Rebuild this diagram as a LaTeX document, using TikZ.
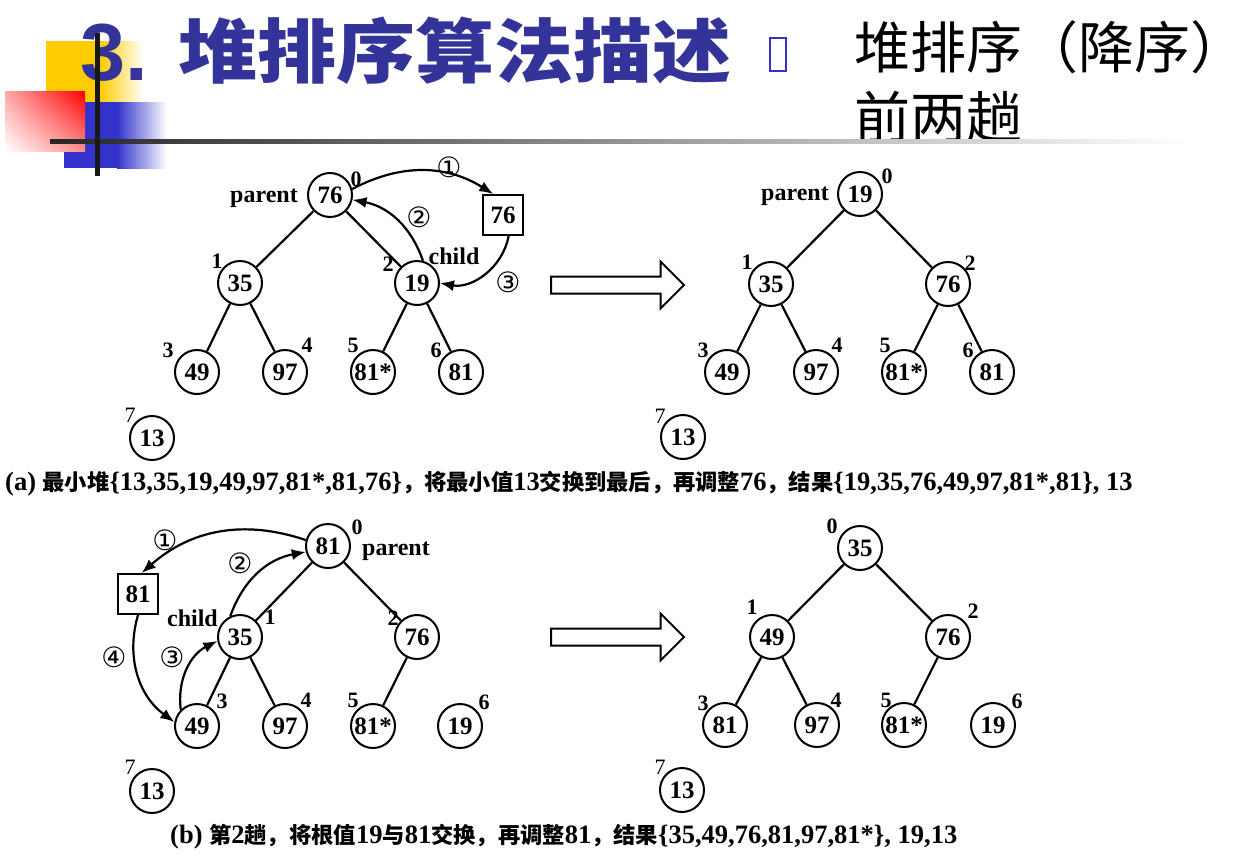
\documentclass[tikz,border=0pt]{standalone}
\usepackage{fontspec}
\setmainfont{Liberation Serif}
\newfontfamily\cjk[Scale=0.84]{Noto Sans CJK SC}
\newfontfamily\cjktitle{Noto Sans CJK SC}
\newfontfamily\titlefont{Liberation Sans}
\newfontfamily\symfont{DejaVu Sans}
\usetikzlibrary{arrows.meta,shapes.arrows,shadings}
\definecolor{titleblue}{RGB}{51,51,153}
\definecolor{boxblue}{RGB}{51,51,204}
\definecolor{boxyellow}{RGB}{255,204,0}
\newcommand{\zhtext}[1]{{\cjk #1}}

\tikzset{
  vertex/.style={circle, draw, line width=2pt, minimum size=44pt, inner sep=0pt, font=\fontsize{25}{25}\selectfont\bfseries},
  tmpbox/.style={rectangle, draw, line width=2pt, minimum size=40pt, inner sep=0pt, font=\fontsize{25}{25}\selectfont\bfseries},
  idx/.style={inner sep=0pt, font=\fontsize{22}{22}\selectfont\bfseries},
  tag/.style={inner sep=0pt, font=\fontsize{24}{24}\selectfont\bfseries},
  stepnum/.style={inner sep=0pt, font=\symfont\fontsize{28}{28}\selectfont},
  edge/.style={line width=2.2pt},
  move/.style={line width=2.2pt, -{Latex[length=14pt,width=11pt]}},
  bigarrow/.style={single arrow, draw, line width=2pt, minimum height=133pt, inner xsep=0pt, inner ysep=7.5pt, single arrow head extend=15pt, anchor=west},
  caption/.style={inner sep=0pt, anchor=base west, font=\fontsize{26.5}{26.5}\selectfont\bfseries}
}

\begin{document}
\begin{tikzpicture}[x=1pt, y=-1pt]
    \useasboundingbox (0,0) rectangle (1251,863);

    % slide decoration
    \fill[boxyellow] (46,41) rectangle (100,102);
    \shade[left color=boxyellow, right color=white] (100,41) rectangle (143,102);
    \fill[boxblue] (64,102) rectangle (117,168);
    \shade[left color=boxblue, right color=white] (117,102) rectangle (167,168);
    \shade[upper right=red, upper left=red!35, lower right=red!45, lower left=white] (5,91) rectangle (85,151);

    % title
    \node(title1) [anchor=base west, inner sep=0pt, text=titleblue, font=\titlefont\bfseries\fontsize{81}{81}\selectfont] at (80,80) {3.};
    \node(title2) [anchor=base west, inner sep=0pt, text=titleblue, font=\cjktitle\bfseries\fontsize{70}{70}\selectfont] at (178,77) {\scalebox{1.13}[1]{堆排序算法描述}};
    \draw[boxblue, line width=2.5pt] (770,38) rectangle (786,71);
    \node(title3) [anchor=base west, inner sep=0pt, font=\cjktitle\fontsize{56}{56}\selectfont] at (854,68) {堆排序（降序）};
    \node(title4) [anchor=base west, inner sep=0pt, font=\cjktitle\fontsize{56}{56}\selectfont] at (854,138) {前两趟};

    \shade[left color=black!85, right color=white] (50,139) rectangle (1190,143);
    \fill[black!90] (95,33) rectangle (100,176);

    %%%%% (a) before %%%%%
    \node(a0) [vertex] at (330,195) {76};
    \node(abox) [tmpbox] at (503,215) {76};
    \node(a1) [vertex] at (240,283) {35};
    \node(a2) [vertex] at (417,283) {19};
    \node(a3) [vertex] at (197,372) {49};
    \node(a4) [vertex] at (285,372) {97};
    \node(a5) [vertex] at (373,372) {81*};
    \node(a6) [vertex] at (461,372) {81};
    \node(a7) [vertex] at (152,438) {13};

    \node(ai0) [idx] at (356,179) {0};
    \node(ai1) [idx] at (217,261) {1};
    \node(ai2) [idx] at (388,264) {2};
    \node(ai3) [idx] at (168,350) {3};
    \node(ai4) [idx] at (307,345) {4};
    \node(ai5) [idx] at (353,345) {5};
    \node(ai6) [idx] at (436,350) {6};
    \node(ai7) [idx, font=\fontsize{22}{22}\selectfont] at (130,415) {7};
    \node(aparent) [tag, anchor=base east] at (298,202) {parent};
    \node(achild) [tag] at (454,256) {child};

    \node(as1) [stepnum] at (449,167) {①};
    \node(as2) [stepnum] at (419,217) {②};
    \node(as3) [stepnum] at (508,282) {③};

    \draw[edge] (a0) -- (a1);
    \draw[edge] (a0) -- (a2);
    \draw[edge] (a1) -- (a3);
    \draw[edge] (a1) -- (a4);
    \draw[edge] (a2) -- (a5);
    \draw[edge] (a2) -- (a6);

    \draw[move] (a0.15) to[bend left=30] (abox.115);
    \draw[move] (a2.75) to[bend right=30] (a0.-12);
    \draw[move] (abox.-75) to[bend left=45] (a2.east);

    \node(aarrow) [bigarrow] at (550,285) {};

    %%%%% (a) after %%%%%
    \node(c0) [vertex] at (860,194) {19};
    \node(c1) [vertex] at (771,284) {35};
    \node(c2) [vertex] at (948,284) {76};
    \node(c3) [vertex] at (727,372) {49};
    \node(c4) [vertex] at (816,372) {97};
    \node(c5) [vertex] at (904,372) {81*};
    \node(c6) [vertex] at (992,372) {81};
    \node(c7) [vertex] at (683,437) {13};

    \node(ci0) [idx] at (887,176) {0};
    \node(ci1) [idx] at (747,262) {1};
    \node(ci2) [idx] at (970,263) {2};
    \node(ci3) [idx] at (703,350) {3};
    \node(ci4) [idx] at (837,345) {4};
    \node(ci5) [idx] at (885,345) {5};
    \node(ci6) [idx] at (968,350) {6};
    \node(ci7) [idx, font=\fontsize{22}{22}\selectfont] at (660,416) {7};
    \node(cparent) [tag, anchor=base east] at (829,200) {parent};

    \draw[edge] (c0) -- (c1);
    \draw[edge] (c0) -- (c2);
    \draw[edge] (c1) -- (c3);
    \draw[edge] (c1) -- (c4);
    \draw[edge] (c2) -- (c5);
    \draw[edge] (c2) -- (c6);

    \node(capa) [caption] at (5,490) {(a) \zhtext{最小堆}\{13,35,19,49,97,81*,81,76\}\zhtext{，将最小值}13\zhtext{交换到最后，再调整}76\zhtext{，结果}\{19,35,76,49,97,81*,81\}, 13};

    %%%%% (b) before %%%%%
    \node(b0) [vertex] at (328,546) {81};
    \node(bbox) [tmpbox] at (138,594) {81};
    \node(b1) [vertex] at (240,637) {35};
    \node(b2) [vertex] at (417,637) {76};
    \node(b3) [vertex] at (197,726) {49};
    \node(b4) [vertex] at (285,726) {97};
    \node(b5) [vertex] at (373,726) {81*};
    \node(b6) [vertex] at (460,726) {19};
    \node(b7) [vertex] at (152,791) {13};

    \node(bi0) [idx] at (357,527) {0};
    \node(bi1) [idx] at (270,617) {1};
    \node(bi2) [idx] at (393,618) {2};
    \node(bi3) [idx] at (222,701) {3};
    \node(bi4) [idx] at (306,700) {4};
    \node(bi5) [idx] at (353,700) {5};
    \node(bi6) [idx] at (484,702) {6};
    \node(bi7) [idx, font=\fontsize{22}{22}\selectfont] at (130,767) {7};
    \node(bparent) [tag, anchor=base west] at (362,555) {parent};
    \node(bchild) [tag, anchor=base east] at (218,626) {child};

    \node(bs1) [stepnum] at (165,540) {①};
    \node(bs2) [stepnum] at (240,563) {②};
    \node(bs3) [stepnum] at (172,657) {③};
    \node(bs4) [stepnum] at (114,657) {④};

    \draw[edge] (b0) -- (b1);
    \draw[edge] (b0) -- (b2);
    \draw[edge] (b1) -- (b3);
    \draw[edge] (b1) -- (b4);
    \draw[edge] (b2) -- (b5);

    \draw[move] (b0.165) to[bend right=30] (bbox.80);
    \draw[move] (b1.115) to[bend left=30] (b0.195);
    \draw[move] (b3.135) to[bend left=35] (b1.190);
    \draw[move] (bbox.south) to[bend right=35] (b3.170);

    \node(barrow) [bigarrow] at (550,637) {};

    %%%%% (b) after %%%%%
    \node(d0) [vertex] at (860,548) {35};
    \node(d1) [vertex] at (772,637) {49};
    \node(d2) [vertex] at (948,637) {76};
    \node(d3) [vertex] at (725,725) {81};
    \node(d4) [vertex] at (817,725) {97};
    \node(d5) [vertex] at (904,725) {81*};
    \node(d6) [vertex] at (993,725) {19};
    \node(d7) [vertex] at (682,790) {13};

    \node(di0) [idx] at (832,526) {0};
    \node(di1) [idx] at (752,607) {1};
    \node(di2) [idx] at (973,611) {2};
    \node(di3) [idx] at (703,703) {3};
    \node(di4) [idx] at (836,700) {4};
    \node(di5) [idx] at (886,700) {5};
    \node(di6) [idx] at (1017,701) {6};
    \node(di7) [idx, font=\fontsize{22}{22}\selectfont] at (660,767) {7};

    \draw[edge] (d0) -- (d1);
    \draw[edge] (d0) -- (d2);
    \draw[edge] (d1) -- (d3);
    \draw[edge] (d1) -- (d4);
    \draw[edge] (d2) -- (d5);

    \node(capb) [caption] at (170,843) {(b) \zhtext{第}2\zhtext{趟，将根值}19\zhtext{与}81\zhtext{交换，再调整}81\zhtext{，结果}\{35,49,76,81,97,81*\}, 19,13};

  \end{tikzpicture}
\end{document}
